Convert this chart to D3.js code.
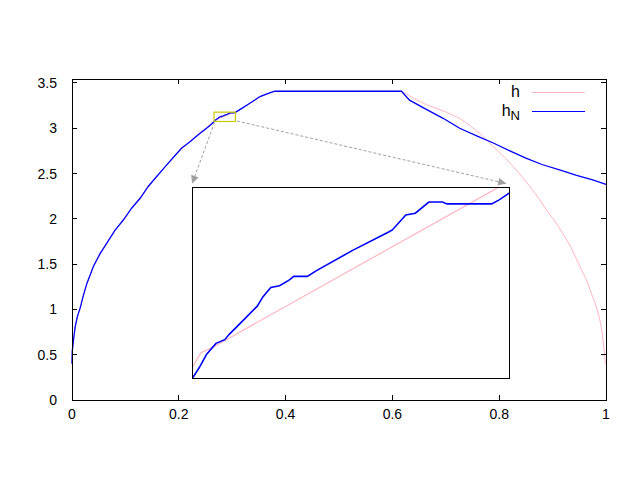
<!DOCTYPE html>
<html>
<head>
<meta charset="utf-8">
<script src="https://cdn.jsdelivr.net/npm/d3@7"></script>
<style>
  body { margin: 0; background: #fff; }
  svg text { font-family: "Liberation Sans", Arial, sans-serif; }
</style>
</head>
<body>
<div id="chart"></div>
<script>
// tick labels
const xTicks = [0, 0.2, 0.4, 0.6, 0.8, 1];
const yTicks = [0, 0.5, 1, 1.5, 2, 2.5, 3, 3.5];

// h (exact curve)
const hPoints = [
  [0, 0.42], [0.001, 0.58], [0.003, 0.68], [0.006, 0.80], [0.01, 0.91], [0.0155, 1.02],
  [0.028, 1.28], [0.040, 1.47], [0.065, 1.74], [0.0965, 2.00], [0.128, 2.24], [0.159, 2.47],
  [0.19, 2.68], [0.221, 2.86], [0.252, 3.01], [0.26, 3.05],
  [0.2660, 3.081], [0.2671, 3.089], [0.2686, 3.092], [0.2703, 3.096], [0.3046, 3.178],
  [0.318, 3.22], [0.333, 3.275], [0.352, 3.345], [0.38, 3.409], [0.617, 3.409],
  [0.64, 3.33], [0.664, 3.26], [0.70, 3.18], [0.726, 3.11], [0.745, 3.03], [0.76, 2.96],
  [0.775, 2.88], [0.788, 2.80], [0.81, 2.68], [0.832, 2.54], [0.857, 2.36], [0.876, 2.21],
  [0.888, 2.10], [0.905, 1.97], [0.919, 1.84], [0.935, 1.68], [0.950, 1.49], [0.963, 1.33],
  [0.975, 1.14], [0.982, 1.03], [0.987, 0.92], [0.991, 0.81], [0.994, 0.68], [0.997, 0.52],
  [0.999, 0.40]
];

// h_N (estimate)
const hNPoints = [
  [0, 0.40], [0.0005, 0.54], [0.002, 0.62], [0.004, 0.72], [0.006, 0.81], [0.01, 0.92],
  [0.0155, 1.02], [0.021, 1.15], [0.028, 1.29], [0.034, 1.38], [0.040, 1.475], [0.052, 1.61],
  [0.065, 1.73], [0.08, 1.87], [0.0965, 1.99], [0.112, 2.12], [0.128, 2.23], [0.143, 2.36],
  [0.159, 2.47], [0.175, 2.58], [0.19, 2.68], [0.205, 2.78], [0.221, 2.85], [0.237, 2.93],
  [0.252, 3.00], [0.26, 3.04],
  [0.2660, 3.075], [0.2669, 3.081], [0.2678, 3.088], [0.2690, 3.094], [0.2701, 3.096],
  [0.2707, 3.099], [0.2728, 3.108], [0.2742, 3.114], [0.2749, 3.119], [0.2759, 3.124],
  [0.2770, 3.125], [0.2782, 3.128], [0.2788, 3.130], [0.2805, 3.130], [0.2816, 3.133],
  [0.2862, 3.144], [0.2908, 3.154], [0.2912, 3.155], [0.2929, 3.163], [0.2941, 3.164],
  [0.2958, 3.170], [0.2975, 3.170], [0.2981, 3.169], [0.3037, 3.169], [0.3046, 3.171],
  [0.3060, 3.175],
  [0.318, 3.22], [0.333, 3.277], [0.352, 3.35], [0.365, 3.38], [0.377, 3.405], [0.380, 3.409],
  [0.617, 3.409], [0.632, 3.31], [0.66, 3.22], [0.695, 3.11], [0.726, 3.00], [0.76, 2.91],
  [0.788, 2.84], [0.82, 2.75], [0.850, 2.67], [0.88, 2.60], [0.913, 2.54], [0.945, 2.48],
  [0.975, 2.43], [1.0, 2.38]
];

// zoom window (data coords) and where the inset sits (main data coords)
const zoomX = [0.266, 0.306];
const zoomY = [3.075, 3.178];
const insetX = [0.225, 0.82];
const insetY = [0.235, 2.35];

const width = 640, height = 480;
const svg = d3.select("#chart").append("svg")
    .attr("width", width)
    .attr("height", height);

const x = d3.scaleLinear().domain([0, 1]).range([72, 606]);
const y = d3.scaleLinear().domain([0, 3.544]).range([400, 79]);

const line = d3.line()
    .x(d => x(d[0]))
    .y(d => y(d[1]));

// Curves
svg.append("path")
    .datum(hPoints)
    .attr("d", line)
    .attr("fill", "none")
    .attr("stroke", "#ffb6c1")
    .attr("stroke-width", 1);

svg.append("path")
    .datum(hNPoints)
    .attr("d", line)
    .attr("fill", "none")
    .attr("stroke", "#0000ff")
    .attr("stroke-width", 1.3);

// Frame with mirrored inward ticks
const frame = svg.append("g").attr("shape-rendering", "crispEdges");
frame.append("rect")
    .attr("x", x(0)).attr("y", y(3.544))
    .attr("width", x(1) - x(0)).attr("height", y(0) - y(3.544))
    .attr("fill", "none").attr("stroke", "#000");

frame.selectAll(".xt").data(xTicks).enter().append("path")
    .attr("d", d => `M${x(d)},${y(0)}v-5M${x(d)},${y(3.544)}v5`)
    .attr("stroke", "#000");
frame.selectAll(".yt").data(yTicks).enter().append("path")
    .attr("d", d => `M${x(0)},${y(d)}h5M${x(1)},${y(d)}h-5`)
    .attr("stroke", "#000");

svg.selectAll(".xl").data(xTicks).enter().append("text")
    .attr("x", d => x(d))
    .attr("y", 419)
    .attr("text-anchor", "middle")
    .attr("font-size", 14)
    .text(d => d);

svg.selectAll(".yl").data(yTicks).enter().append("text")
    .attr("x", 57)
    .attr("y", d => y(d) + 5)
    .attr("text-anchor", "end")
    .attr("font-size", 14)
    .text(d => d);

// Zoom rectangle
svg.append("rect")
    .attr("x", x(zoomX[0])).attr("y", y(zoomY[1]))
    .attr("width", x(zoomX[1]) - x(zoomX[0]))
    .attr("height", y(zoomY[0]) - y(zoomY[1]))
    .attr("fill", "none")
    .attr("stroke", "#c8c800")
    .attr("stroke-width", 1.2);

// Arrows from zoom box to inset
const defs = svg.append("defs");
defs.append("marker")
    .attr("id", "head")
    .attr("viewBox", "0 0 10 10")
    .attr("refX", 10).attr("refY", 5)
    .attr("markerWidth", 10).attr("markerHeight", 8)
    .attr("markerUnits", "userSpaceOnUse")
    .attr("orient", "auto")
    .append("path")
    .attr("d", "M0,0L10,5L0,10z")
    .attr("fill", "#a0a0a0");

const arrows = [
    [[zoomX[0] + 0.001, zoomY[0] - 0.01], [insetX[0], insetY[1] + 0.04]],
    [[zoomX[1] + 0.003, zoomY[0] + 0.005], [0.813, insetY[1] + 0.04]]
];
svg.selectAll(".arrow").data(arrows).enter().append("line")
    .attr("x1", d => x(d[0][0])).attr("y1", d => y(d[0][1]))
    .attr("x2", d => x(d[1][0])).attr("y2", d => y(d[1][1]))
    .attr("stroke", "#a0a0a0")
    .attr("stroke-width", 1)
    .attr("stroke-dasharray", "3,2")
    .attr("marker-end", "url(#head)");

// Inset
const ix = d3.scaleLinear().domain(zoomX).range([x(insetX[0]), x(insetX[1])]);
const iy = d3.scaleLinear().domain(zoomY).range([y(insetY[0]), y(insetY[1])]);
const iline = d3.line()
    .x(d => ix(d[0]))
    .y(d => iy(d[1]));

defs.append("clipPath").attr("id", "insetClip")
    .append("rect")
    .attr("x", ix(zoomX[0])).attr("y", iy(zoomY[1]))
    .attr("width", ix(zoomX[1]) - ix(zoomX[0]))
    .attr("height", iy(zoomY[0]) - iy(zoomY[1]));

svg.append("rect")
    .attr("x", ix(zoomX[0])).attr("y", iy(zoomY[1]))
    .attr("width", ix(zoomX[1]) - ix(zoomX[0]))
    .attr("height", iy(zoomY[0]) - iy(zoomY[1]))
    .attr("fill", "#fff");

const inset = svg.append("g").attr("clip-path", "url(#insetClip)");
inset.append("path")
    .datum(hPoints)
    .attr("d", iline)
    .attr("fill", "none")
    .attr("stroke", "#ffb6c1")
    .attr("stroke-width", 1.2);
inset.append("path")
    .datum(hNPoints)
    .attr("d", iline)
    .attr("fill", "none")
    .attr("stroke", "#0000ff")
    .attr("stroke-width", 1.6);

svg.append("rect")
    .attr("x", ix(zoomX[0])).attr("y", iy(zoomY[1]))
    .attr("width", ix(zoomX[1]) - ix(zoomX[0]))
    .attr("height", iy(zoomY[0]) - iy(zoomY[1]))
    .attr("fill", "none")
    .attr("stroke", "#000")
    .attr("shape-rendering", "crispEdges");

// Legend
const legend = svg.append("g").attr("font-size", 16);
legend.append("text").attr("x", 520).attr("y", 97).attr("text-anchor", "end").text("h");
legend.append("line").attr("x1", 532).attr("x2", 585).attr("y1", 92.5).attr("y2", 92.5)
    .attr("stroke", "#ffb6c1");
const hn = legend.append("text").attr("x", 520).attr("y", 116).attr("text-anchor", "end");
hn.append("tspan").text("h");
hn.append("tspan").attr("dy", 4).attr("font-size", 13).text("N");
legend.append("line").attr("x1", 532).attr("x2", 585).attr("y1", 111.5).attr("y2", 111.5)
    .attr("stroke", "#0000ff");
</script>
</body>
</html>
